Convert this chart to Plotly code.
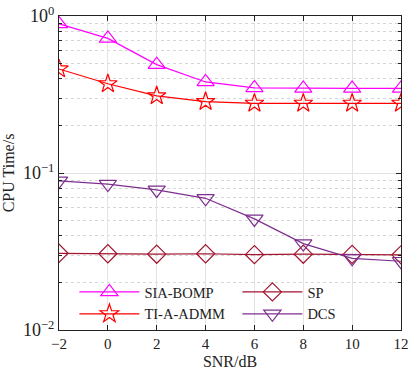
import plotly.graph_objects as go

snr = [-2, 0, 2, 4, 6, 8, 10, 12]
sia_bomp = [0.89, 0.72, 0.49, 0.38, 0.348, 0.346, 0.346, 0.346]
ti_a_admm = [0.46, 0.37, 0.31, 0.285, 0.278, 0.278, 0.278, 0.278]
sp = [0.0308, 0.0306, 0.0304, 0.0306, 0.0302, 0.0304, 0.0303, 0.0301]
dcs = [0.089, 0.085, 0.078, 0.069, 0.051, 0.0355, 0.0286, 0.0274]

series = [
    ("SIA-BOMP", sia_bomp, "#FF00FF", "triangle-up-open", 15),
    ("SP", sp, "#A2142F", "diamond-open", 14),
    ("TI-A-ADMM", ti_a_admm, "#FF0000", "star-open", 14),
    ("DCS", dcs, "#7E2F8E", "triangle-down-open", 15),
]

fig = go.Figure()
for name, vals, color, sym, size in series:
    fig.add_trace(go.Scatter(
        x=snr, y=vals, name=name, mode="lines+markers",
        line=dict(color=color, width=1.2),
        marker=dict(symbol=sym, size=size, color=color, line=dict(width=1.2, color=color)),
    ))

font = "Liberation Serif, Times New Roman, serif"
fig.update_layout(
    width=413, height=371,
    margin=dict(l=59, r=4, t=16, b=36),
    paper_bgcolor="white", plot_bgcolor="white",
    font=dict(family=font, size=14, color="#222"),
    legend=dict(
        orientation="h", x=0.045, y=0.0, xanchor="left", yanchor="bottom",
        entrywidth=88, entrywidthmode="pixels",
        bgcolor="rgba(255,255,255,0)", font=dict(family=font, size=14.5, color="#222"),
        tracegroupgap=0, itemwidth=60,
    ),
    showlegend=True,
)
fig.update_xaxes(
    range=[-2, 12], tickmode="array", tickvals=snr,
    ticktext=["\u22122", "0", "2", "4", "6", "8", "10", "12"],
    ticks="inside", ticklen=5, tickcolor="#222", ticklabeloverflow="allow",
    showline=True, linecolor="#222", linewidth=1, mirror="ticks",
    showgrid=True, gridcolor="#E3E3E3", gridwidth=1, zeroline=False,
    title=dict(text="SNR/dB", standoff=4, font=dict(family=font, size=16)),
    tickfont=dict(family=font, size=15),
)
fig.update_yaxes(
    type="log", range=[-2, 0],
    tickmode="array", tickvals=[0.01, 0.1, 1],
    ticktext=["10<sup>\u22122</sup>", "10<sup>\u22121</sup>", "10<sup>0</sup>"],
    ticks="inside", ticklen=5, tickcolor="#222",
    showline=True, linecolor="#222", linewidth=1, mirror="ticks",
    showgrid=True, gridcolor="#E3E3E3", gridwidth=1, zeroline=False,
    minor=dict(
        tickvals=[m * 10 ** e for e in (-2, -1) for m in range(2, 10)],
        ticks="inside", ticklen=3, tickcolor="#222",
        showgrid=True, gridcolor="#D6D6D6", griddash="dot", gridwidth=1,
    ),
    title=dict(text="CPU Time/s", standoff=4, font=dict(family=font, size=16)),
    tickfont=dict(family=font, size=18),
)
fig.write_html("out.html")
